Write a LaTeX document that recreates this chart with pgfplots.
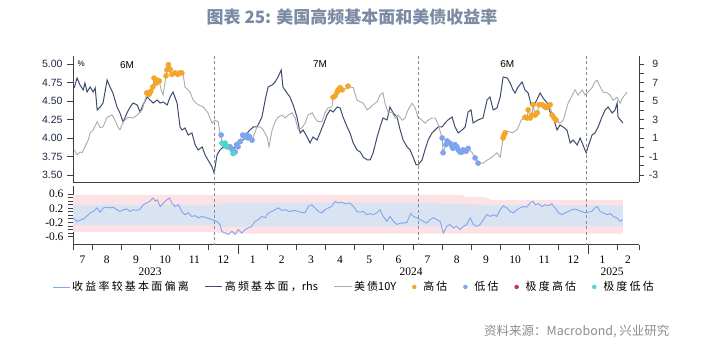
\documentclass[border=0pt]{standalone}
\usepackage{fontspec}
\setmainfont{Liberation Serif}
\newfontfamily\lsans{Liberation Sans}
\newfontfamily\cjk{Noto Sans CJK SC}
\newfontfamily\cjklg[LetterSpace=20]{Noto Sans CJK SC}
\usepackage{pgfplots}
\pgfplotsset{compat=1.18}
\definecolor{navyc}{HTML}{3D4B6E}
\definecolor{greyc}{HTML}{ABABAB}
\definecolor{devc}{HTML}{7FA5EE}
\definecolor{orangec}{HTML}{F5A52A}
\definecolor{lowc}{HTML}{7FA3EE}
\definecolor{xhighc}{HTML}{C8374F}
\definecolor{xlowc}{HTML}{4FD6CB}
\definecolor{pinkc}{HTML}{FDE2E5}
\definecolor{bandc}{HTML}{DAE3F1}
\definecolor{dashc}{HTML}{8A8A8A}
\definecolor{axisc}{HTML}{404040}
\definecolor{titlec}{HTML}{7B8BA5}
\definecolor{labc}{HTML}{1E2A48}
\definecolor{srcc}{HTML}{8C8C8C}
\begin{document}
\begin{tikzpicture}
\path[use as bounding box] (0,0) rectangle (709pt,347pt);

% ---------------- bottom panel ----------------
\begin{axis}[name=bot, at={(73pt,102.3pt)}, anchor=south west,
  width=566pt, height=58.7pt, scale only axis,
  xmin=0.34, xmax=19.75, ymin=-0.83, ymax=0.83,
  axis x line*=bottom, axis y line*=left,
  axis line style={color=axisc, line width=0.9pt},
  tick align=outside, tick style={color=axisc, line width=0.8pt},
  major tick length=5pt, minor tick length=5pt,
  ytick={-0.6,-0.2,0.2,0.6}, yticklabels={-0.6,-0.2,0.2,0.6},
  minor ytick={-0.5,-0.4,-0.3,-0.1,0,0.1,0.3,0.4,0.5},
  yticklabel style={font=\fontsize{11.5}{13}\selectfont, color=black, xshift=-1pt},
  x tick label as interval,
  xtick={0.34,1,2,3,4,5,6,7,8,9,10,11,12,13,14,15,16,17,18,19,19.75},
  xticklabels={7,8,9,10,11,12,1,2,3,4,5,6,7,8,9,10,11,12,1,2},
  xticklabel style={font=\fontsize{11.5}{13}\selectfont, color=black, yshift=-3pt},
  extra x ticks={6,18}, extra x tick labels={},
  extra x tick style={major tick length=9pt},
  legend style={at={(0.4965,-0.72)}, anchor=center, draw=none, fill=none,
    font=\fontsize{11}{13}\selectfont\cjklg, legend columns=7,
    /tikz/every even column/.append style={column sep=14pt}},
  legend cell align=left,
]
\addplot[fill=pinkc, draw=none, forget plot] coordinates {
(0.34,0.58)(13.7,0.58)(13.8,0.52)(14.5,0.51)(14.7,0.44)(19.2,0.44)
(19.2,-0.52)(5.45,-0.52)(5.2,-0.47)(0.34,-0.47)} -- cycle;
\addplot[fill=bandc, draw=none, forget plot] coordinates {
(0.34,0.30)(5.2,0.30)(5.5,0.36)(12.0,0.36)(13.5,0.32)(15.0,0.29)(19.2,0.29)
(19.2,-0.31)(5.5,-0.32)(5.2,-0.28)(0.34,-0.28)} -- cycle;
\addplot[devc, line width=0.9pt] coordinates {
(0.35,-0.07)(0.47,-0.17)(0.58,-0.14)(0.70,-0.10)(0.81,-0.03)(0.93,0.07)(1.04,0.11)(1.16,0.21)(1.27,0.09)(1.38,0.21)(1.50,0.23)(1.61,0.21)(1.72,0.23)(1.84,0.16)(1.95,0.11)(2.07,0.16)(2.18,0.18)(2.30,0.11)(2.41,0.16)(2.53,0.14)(2.64,0.18)(2.75,0.30)(2.87,0.35)(2.98,0.40)(3.08,0.49)(3.16,0.40)(3.23,0.44)(3.33,0.25)(3.44,0.35)(3.56,0.44)(3.65,0.49)(3.73,0.35)(3.84,0.25)(3.95,0.30)(4.07,0.11)(4.18,0.02)(4.30,0.07)(4.41,-0.03)(4.53,-0.01)(4.64,-0.07)(4.76,-0.03)(4.93,-0.07)(5.10,-0.12)(5.27,-0.17)(5.38,-0.26)(5.44,-0.45)(5.56,-0.50)(5.67,-0.54)(5.79,-0.45)(5.90,-0.54)(6.01,-0.40)(6.13,-0.50)(6.24,-0.40)(6.35,-0.36)(6.47,-0.31)(6.58,-0.17)(6.70,-0.12)(6.81,-0.03)(6.93,-0.07)(7.04,0.07)(7.16,0.11)(7.27,0.16)(7.38,0.21)(7.50,0.14)(7.61,0.16)(7.78,0.11)(7.96,0.14)(8.13,0.09)(8.30,0.07)(8.41,0.25)(8.53,0.30)(8.64,0.21)(8.76,0.11)(8.87,0.07)(8.98,0.16)(9.10,0.21)(9.21,0.25)(9.33,0.40)(9.44,0.35)(9.56,0.37)(9.67,0.33)(9.84,0.35)(9.96,0.25)(10.07,0.11)(10.19,0.09)(10.30,0.11)(10.41,0.02)(10.53,0.05)(10.64,0.02)(10.76,0.07)(10.87,0.16)(10.98,-0.03)(11.10,-0.17)(11.21,-0.03)(11.33,-0.17)(11.44,-0.26)(11.56,-0.22)(11.67,-0.22)(11.79,-0.20)(11.92,0.05)(12.01,-0.03)(12.13,-0.07)(12.24,-0.12)(12.36,-0.17)(12.47,-0.22)(12.59,-0.12)(12.70,-0.07)(12.82,-0.12)(12.93,-0.17)(13.04,-0.50)(13.16,-0.31)(13.27,-0.26)(13.38,-0.36)(13.50,-0.31)(13.61,-0.40)(13.73,-0.31)(13.84,-0.26)(13.96,-0.07)(14.07,-0.26)(14.19,-0.31)(14.30,-0.26)(14.41,-0.12)(14.53,0.02)(14.64,-0.03)(14.76,0.02)(14.87,-0.03)(14.99,0.16)(15.10,0.27)(15.22,0.21)(15.33,0.11)(15.44,0.07)(15.56,0.16)(15.67,0.21)(15.79,0.25)(15.90,0.23)(16.02,0.35)(16.11,0.40)(16.19,0.30)(16.30,0.33)(16.42,0.25)(16.53,0.30)(16.64,0.27)(16.76,0.33)(16.87,0.21)(16.99,0.07)(17.10,0.02)(17.22,0.07)(17.33,0.11)(17.45,0.16)(17.56,0.18)(17.67,0.14)(17.79,0.11)(17.90,0.07)(18.01,0.09)(18.13,0.11)(18.24,0.21)(18.32,0.25)(18.42,0.11)(18.53,0.07)(18.65,0.02)(18.76,0.05)(18.87,-0.03)(18.99,-0.07)(19.10,-0.17)(19.19,-0.12)};
\addlegendentry{收益率较基本面偏离}
\addlegendimage{navyc, line width=1pt}
\addlegendentry{高频基本面，{\cjk rhs}}
\addlegendimage{greyc, line width=1pt}
\addlegendentry{美债{\cjk 10Y}}
\addlegendimage{only marks, mark=*, mark size=2pt, color=orangec}
\addlegendentry{\hspace{5pt}高估}
\addlegendimage{only marks, mark=*, mark size=2pt, color=lowc}
\addlegendentry{\hspace{5pt}低估}
\addlegendimage{only marks, mark=*, mark size=2pt, color=xhighc}
\addlegendentry{\hspace{5pt}极度高估}
\addlegendimage{only marks, mark=*, mark size=2pt, color=xlowc}
\addlegendentry{\hspace{5pt}极度低估}
\end{axis}

% ---------------- top panel, right axis (fundamentals) ----------------
\begin{axis}[at={(73pt,165pt)}, anchor=south west,
  width=566pt, height=126pt, scale only axis,
  xmin=0.34, xmax=19.75, ymin=-3.76, ymax=9.864,
  axis y line*=right, axis x line=none,
  axis line style={color=axisc, line width=0.9pt},
  tick align=outside, tick style={color=axisc, line width=0.8pt},
  major tick length=5pt,
  ytick={-3,-2,-1,0,1,2,3,4,5,6,7,8,9},
  yticklabels={-3,,-1,,1,,3,,5,,7,,9},
  yticklabel style={font=\fontsize{10.5}{12}\selectfont\lsans, color=labc,
    anchor=west, align=right, text width=10pt, inner sep=0pt, xshift=4pt},
  xtick=\empty,
]
\addplot[navyc, line width=1pt] coordinates {
(0.38,6.41)(0.48,7.49)(0.58,6.73)(0.69,6.19)(0.75,6.95)(0.82,5.97)(0.93,6.51)(1.03,5.97)(1.10,6.41)(1.17,4.03)(1.27,4.35)(1.37,4.78)(1.51,7.27)(1.61,6.51)(1.71,5.86)(1.85,4.35)(1.95,3.70)(2.06,2.73)(2.19,3.70)(2.30,4.35)(2.40,4.78)(2.54,4.57)(2.64,3.81)(2.74,4.57)(2.88,5.43)(2.98,5.11)(3.09,4.78)(3.22,5.11)(3.33,4.78)(3.43,4.89)(3.57,4.57)(3.67,5.43)(3.77,5.97)(3.91,4.78)(4.01,2.19)(4.08,1.86)(4.18,2.08)(4.29,1.32)(4.42,1.54)(4.53,0.24)(4.63,-0.30)(4.77,0.03)(4.87,-0.84)(4.97,-1.38)(5.11,-2.14)(5.18,-2.78)(5.28,-0.84)(5.38,-0.30)(5.49,0.03)(5.73,-0.08)(5.97,0.03)(6.07,0.78)(6.17,0.78)(6.31,1.54)(6.41,1.86)(6.52,2.19)(6.65,2.19)(6.82,3.27)(6.93,5.11)(7.03,6.51)(7.17,6.73)(7.27,7.05)(7.37,7.59)(7.48,8.35)(7.54,6.51)(7.68,5.86)(7.78,5.43)(7.89,4.57)(8.02,3.27)(8.13,1.54)(8.23,1.86)(8.37,1.11)(8.47,0.46)(8.57,1.11)(8.71,0.78)(8.81,1.54)(8.92,2.41)(9.05,3.49)(9.16,4.03)(9.26,3.81)(9.40,4.35)(9.50,4.24)(9.60,3.27)(9.74,2.19)(9.84,1.54)(9.95,0.46)(10.08,-0.30)(10.19,-0.51)(10.29,-1.05)(10.43,-1.38)(10.53,-1.38)(10.63,-0.62)(10.77,1.11)(10.87,2.19)(10.97,3.16)(11.11,2.95)(11.21,4.35)(11.32,3.70)(11.45,3.27)(11.56,1.86)(11.66,0.78)(11.80,0.03)(11.90,-0.30)(12.00,-1.05)(12.11,-1.92)(12.17,-1.92)(12.31,-1.38)(12.41,-0.30)(12.52,0.78)(12.65,1.54)(12.76,1.86)(12.86,2.19)(13.00,2.19)(13.10,2.62)(13.20,2.95)(13.34,3.27)(13.44,2.19)(13.55,1.54)(13.68,1.86)(13.79,2.19)(13.89,3.81)(13.99,4.03)(14.06,2.62)(14.23,2.95)(14.40,3.16)(14.54,5.11)(14.64,5.43)(14.75,4.03)(14.88,4.24)(14.99,5.43)(15.09,7.59)(15.23,7.49)(15.33,6.95)(15.43,6.19)(15.50,5.86)(15.60,6.51)(15.74,7.05)(15.84,6.19)(15.95,5.86)(16.05,4.57)(16.19,4.78)(16.36,5.86)(16.46,5.32)(16.60,4.78)(16.70,3.81)(16.80,3.27)(16.94,1.86)(17.04,2.41)(17.15,2.19)(17.28,1.86)(17.39,0.46)(17.49,0.78)(17.63,0.24)(17.73,1.00)(17.83,0.24)(17.94,-0.62)(18.00,0.03)(18.14,1.32)(18.24,1.54)(18.35,2.19)(18.48,3.27)(18.59,4.03)(18.69,4.35)(18.83,3.70)(18.93,4.03)(19.00,4.78)(19.03,3.27)(19.17,2.73)(19.20,2.62)};
\end{axis}

% ---------------- top panel, left axis (10Y yield) ----------------
\begin{axis}[at={(73pt,165pt)}, anchor=south west,
  width=566pt, height=126pt, scale only axis,
  xmin=0.34, xmax=19.75, ymin=3.405, ymax=5.108,
  axis y line*=left, axis x line*=bottom,
  axis line style={color=axisc, line width=0.9pt},
  tick align=outside, tick style={color=axisc, line width=0.8pt},
  major tick length=6pt,
  ytick={3.5,3.75,4,4.25,4.5,4.75,5},
  yticklabels={3.50,3.75,4.00,4.25,4.50,4.75,5.00},
  yticklabel style={font=\fontsize{10.5}{12}\selectfont\lsans, color=labc, xshift=-1pt},
  xtick=\empty,
]
\addplot[greyc, line width=0.9pt] coordinates {
(0.38,3.84)(0.48,3.77)(0.58,3.81)(0.65,3.80)(0.75,3.88)(0.86,3.97)(0.93,4.07)(1.03,4.11)(1.17,4.22)(1.27,4.14)(1.37,4.15)(1.51,4.28)(1.68,4.31)(1.78,4.24)(1.89,4.14)(1.95,4.11)(2.06,4.22)(2.23,4.28)(2.40,4.27)(2.54,4.31)(2.71,4.38)(2.81,4.51)(2.87,4.61)(2.95,4.59)(3.01,4.63)(3.08,4.69)(3.12,4.81)(3.19,4.74)(3.23,4.78)(3.30,4.77)(3.36,4.65)(3.43,4.58)(3.53,4.84)(3.56,4.92)(3.61,4.99)(3.67,4.93)(3.73,4.86)(3.84,4.88)(3.93,4.86)(4.01,4.88)(4.07,4.88)(4.12,4.85)(4.18,4.69)(4.36,4.62)(4.46,4.51)(4.63,4.45)(4.80,4.42)(4.97,4.34)(5.11,4.20)(5.21,4.24)(5.32,4.22)(5.38,4.07)(5.42,4.04)(5.45,3.93)(5.56,3.93)(5.61,3.88)(5.73,3.88)(5.83,3.79)(5.95,3.91)(6.07,3.97)(6.16,4.04)(6.30,4.04)(6.39,4.02)(6.48,3.97)(6.65,4.15)(6.76,4.15)(6.86,4.11)(7.00,4.01)(7.06,3.88)(7.17,4.11)(7.27,4.22)(7.37,4.28)(7.51,4.31)(7.61,4.27)(7.72,4.31)(7.85,4.34)(7.96,4.27)(8.06,4.11)(8.20,4.14)(8.30,4.20)(8.40,4.31)(8.54,4.34)(8.64,4.27)(8.74,4.22)(8.88,4.22)(8.98,4.34)(9.09,4.41)(9.22,4.42)(9.26,4.55)(9.33,4.57)(9.40,4.62)(9.43,4.65)(9.50,4.68)(9.57,4.65)(9.67,4.66)(9.77,4.70)(9.84,4.69)(9.95,4.68)(10.08,4.51)(10.19,4.49)(10.29,4.47)(10.43,4.38)(10.53,4.41)(10.63,4.45)(10.77,4.49)(10.87,4.58)(10.97,4.61)(11.04,4.47)(11.15,4.34)(11.28,4.35)(11.39,4.27)(11.49,4.31)(11.63,4.24)(11.73,4.27)(11.83,4.38)(11.97,4.47)(12.07,4.41)(12.17,4.28)(12.31,4.24)(12.41,4.20)(12.52,4.24)(12.65,4.27)(12.76,4.27)(12.86,4.18)(13.00,4.00)(13.03,3.80)(13.13,3.91)(13.17,3.96)(13.27,3.93)(13.34,3.88)(13.37,3.86)(13.44,3.91)(13.51,3.88)(13.55,3.84)(13.61,3.81)(13.68,3.81)(13.72,3.84)(13.82,3.82)(13.89,3.86)(14.03,3.80)(14.13,3.73)(14.23,3.66)(14.40,3.66)(14.54,3.70)(14.71,3.74)(14.88,3.80)(14.99,3.74)(15.09,4.00)(15.12,4.04)(15.16,4.07)(15.26,4.09)(15.40,4.07)(15.57,4.11)(15.71,4.24)(15.84,4.28)(15.91,4.27)(15.95,4.38)(16.02,4.27)(16.08,4.31)(16.12,4.45)(16.19,4.31)(16.26,4.34)(16.32,4.45)(16.43,4.45)(16.50,4.43)(16.56,4.41)(16.63,4.42)(16.70,4.45)(16.77,4.31)(16.84,4.27)(16.91,4.24)(17.04,4.20)(17.15,4.24)(17.32,4.47)(17.46,4.58)(17.56,4.65)(17.66,4.58)(17.80,4.65)(17.90,4.58)(18.00,4.62)(18.14,4.68)(18.24,4.76)(18.31,4.78)(18.42,4.69)(18.52,4.62)(18.66,4.61)(18.76,4.58)(18.86,4.51)(19.00,4.55)(19.10,4.47)(19.20,4.55)(19.34,4.62)};
% high valuation
\addplot[only marks, mark=*, mark size=2.6pt, color=orangec] coordinates {
(2.87,4.61)(2.95,4.59)(3.01,4.63)(3.08,4.69)(3.12,4.81)(3.19,4.74)(3.23,4.78)(3.30,4.77)(3.53,4.84)(3.56,4.92)(3.61,4.99)(3.67,4.93)(3.73,4.86)(3.84,4.88)(3.93,4.86)(4.01,4.88)(4.07,4.88)
(9.26,4.55)(9.33,4.57)(9.40,4.62)(9.43,4.65)(9.50,4.68)(9.57,4.65)(9.77,4.70)
(15.09,4.00)(15.12,4.04)(15.16,4.07)
(15.84,4.28)(15.91,4.27)(15.95,4.38)(16.02,4.27)(16.08,4.31)(16.12,4.45)(16.19,4.31)(16.26,4.34)(16.32,4.45)(16.43,4.45)(16.50,4.43)(16.56,4.41)(16.63,4.42)(16.70,4.45)(16.77,4.31)(16.84,4.27)(16.91,4.24)};
% low valuation
\addplot[only marks, mark=*, mark size=2.6pt, color=lowc] coordinates {
(5.42,4.04)(5.66,3.88)(5.73,3.88)(5.80,3.84)(5.90,3.81)(5.95,3.91)(6.00,3.88)(6.07,3.95)(6.16,4.04)(6.24,4.01)(6.30,4.04)(6.34,4.00)(6.39,4.02)(6.48,3.97)
(13.00,4.00)(13.03,3.80)(13.13,3.91)(13.17,3.96)(13.27,3.93)(13.34,3.88)(13.37,3.86)(13.44,3.91)(13.51,3.88)(13.55,3.84)(13.61,3.81)(13.68,3.81)(13.72,3.84)(13.82,3.82)(13.89,3.86)(14.13,3.73)(14.23,3.66)};
% extremely low valuation
\addplot[only marks, mark=*, mark size=2.6pt, color=xlowc] coordinates {
(5.45,3.93)(5.52,3.92)(5.56,3.93)(5.61,3.88)(5.83,3.79)};
\node[font=\fontsize{8}{9}\selectfont\lsans] at (axis cs:0.62,5.0) {\%};
\node[font=\fontsize{10}{11}\selectfont\lsans] at (axis cs:2.19,4.99) {6M};
\node[font=\fontsize{10}{11}\selectfont\lsans] at (axis cs:8.81,5.00) {7M};
\node[font=\fontsize{10}{11}\selectfont\lsans] at (axis cs:15.23,5.00) {6M};
\coordinate (d1) at (axis cs:5.18,5.108);
\coordinate (d2) at (axis cs:12.17,5.108);
\coordinate (d3) at (axis cs:17.94,5.108);
\end{axis}

% dashed separators through both panels
\foreach \d in {d1,d2,d3}{
  \draw[dashc, line width=0.9pt, dash pattern=on 3pt off 2.5pt] (\d) -- (\d |- bot.south west);
}

% year labels
\node[font=\fontsize{11.5}{13}\selectfont] at (150pt,75pt) {2023};
\node[font=\fontsize{11.5}{13}\selectfont] at (411pt,75pt) {2024};
\node[font=\fontsize{11.5}{13}\selectfont] at (612pt,75pt) {2025};

% title and source
\node[font=\fontsize{17}{20}\selectfont\cjk\bfseries, color=titlec] at (352pt,330pt) {图表 25: 美国高频基本面和美债收益率};
\node[font=\fontsize{12.5}{14}\selectfont\cjk, color=srcc, anchor=east] at (673pt,16pt) {资料来源：Macrobond, 兴业研究};
\end{tikzpicture}
\end{document}
